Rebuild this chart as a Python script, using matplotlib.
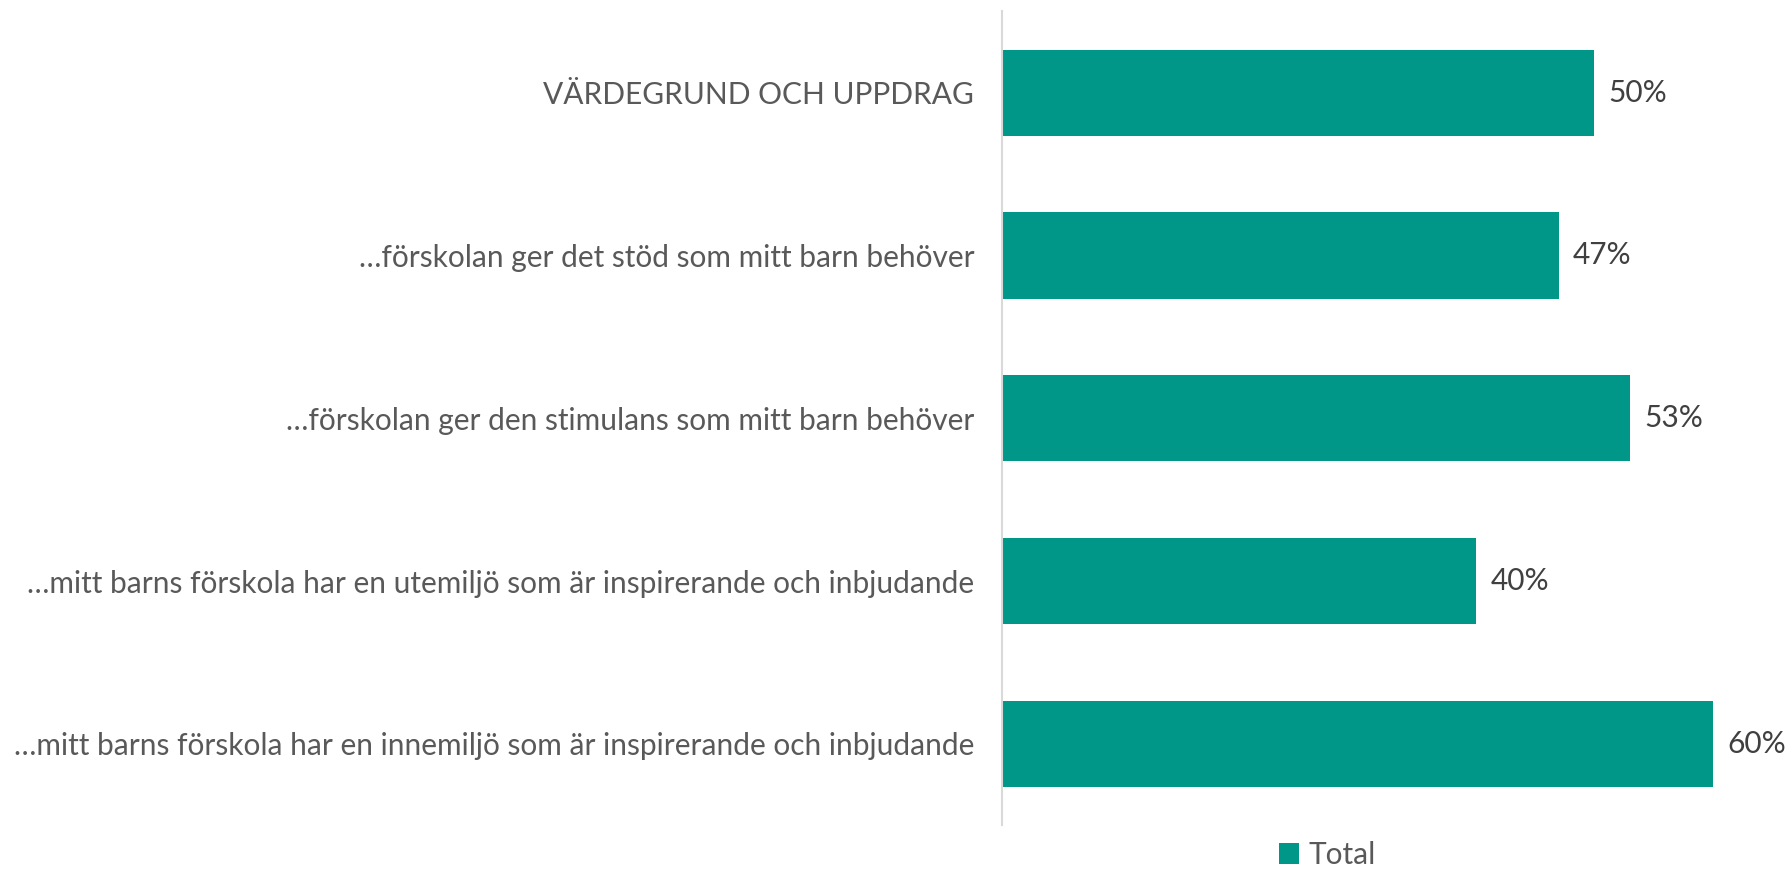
import matplotlib
matplotlib.use("Agg")
import matplotlib.pyplot as plt

# data
categories = [
    "VÄRDEGRUND OCH UPPDRAG",
    "…förskolan ger det stöd som mitt barn behöver",
    "…förskolan ger den stimulans som mitt barn behöver",
    "…mitt barns förskola har en utemiljö som är inspirerande och inbjudande",
    "…mitt barns förskola har en innemiljö som är inspirerande och inbjudande",
]
values = [0.50, 0.47, 0.53, 0.40, 0.60]
series_name = "Total"

bar_color = "#009789"
label_color = "#595959"

plt.rcParams['font.family'] = ['Lato', 'DejaVu Sans']

fig = plt.figure(figsize=(17.91, 8.75), dpi=100)
ax = fig.add_axes([0.5595, 0.057, 0.43, 0.93])

y = list(range(len(categories)))
bars = ax.barh(y, values, height=0.53, color=bar_color, label=series_name)

#étiquettes de valeurs
for yi, v in zip(y, values):
    ax.text(v + 0.012, yi, "%d%%" % round(v * 100), va='center', ha='left',
            fontsize=21.5, color="#404040")

ax.set_yticks(y)
ax.set_yticklabels(categories, fontsize=21.5, color=label_color)
ax.set_ylim(len(categories) - 0.5, -0.5)
ax.set_xlim(0, 0.65)
ax.tick_params(axis='y', length=0, pad=20)
ax.set_xticks([])

for side in ['top', 'right', 'bottom']:
    ax.spines[side].set_visible(False)
ax.spines['left'].set_color("#d9d9d9")
ax.spines['left'].set_linewidth(1.5)

fig.legend(handles=[bars], labels=[series_name], loc='lower center',
           bbox_to_anchor=(0.741, 0.0), borderaxespad=0.1, borderpad=0.1,
           frameon=False, fontsize=21.5,
           handlelength=0.7, handleheight=0.7, handletextpad=0.3,
           labelcolor=label_color)

fig.savefig("out.png", dpi=100)
